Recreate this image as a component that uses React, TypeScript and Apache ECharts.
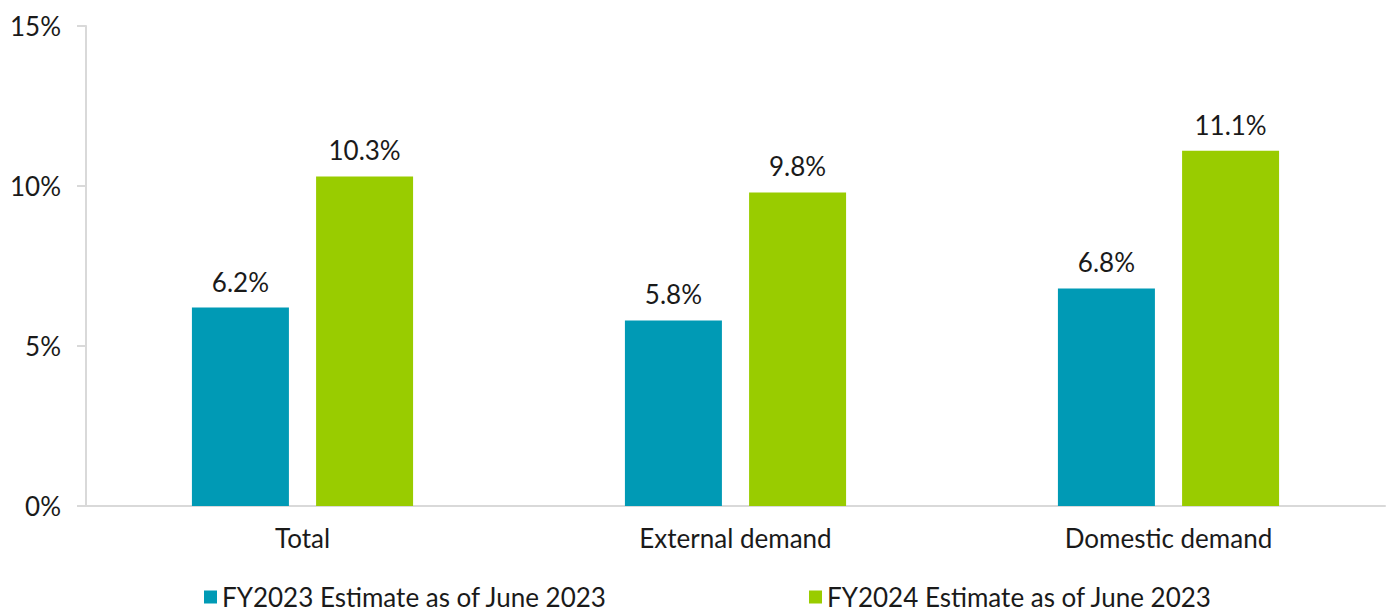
import React, { useEffect, useRef } from "react";
import * as echarts from "echarts";

const categories = ["Total", "External demand", "Domestic demand"];
const fy2023 = [6.2, 5.8, 6.8];
const fy2024 = [10.3, 9.8, 11.1];
const seriesNames = ["FY2023 Estimate as of June 2023", "FY2024 Estimate as of June 2023"];
const yTicks = { min: 0, max: 15, interval: 5 };

const FONT = "Lato, 'Noto Sans', sans-serif";
const FS = 26;

export default function App() {
  const ref = useRef<HTMLDivElement>(null);
  useEffect(() => {
    if (!ref.current) return;
    const chart = echarts.init(ref.current, null, { renderer: "svg" });
    const label = {
      show: true,
      position: "top",
      distance: 13,
      fontSize: FS,
      fontFamily: FONT,
      color: "#1a1a1a",
      formatter: (p: any) => `${p.value.toFixed(1)}%`,
    };
    const legendBase = {
      top: 579,
      itemWidth: 13,
      itemHeight: 13,
      icon: "rect",
      textStyle: { fontSize: FS, fontFamily: FONT, color: "#1a1a1a", lineHeight: 26 },
    };
    chart.setOption({
      animation: false,
      grid: { left: 86, right: 6, top: 26, bottom: 109, containLabel: false },
      legend: [
        { ...legendBase, left: 199, data: [seriesNames[0]] },
        { ...legendBase, left: 804, data: [seriesNames[1]] },
      ],
      xAxis: {
        type: "category",
        data: categories,
        axisLine: { show: true, lineStyle: { color: "#d9d9d9", width: 2 } },
        axisTick: { show: false },
        axisLabel: { fontSize: FS, fontFamily: FONT, color: "#1a1a1a", margin: 19 },
      },
      yAxis: {
        type: "value",
        min: yTicks.min,
        max: yTicks.max,
        interval: yTicks.interval,
        axisLine: { show: true, lineStyle: { color: "#d9d9d9", width: 2 } },
        axisTick: { show: true, length: 9, lineStyle: { color: "#d9d9d9", width: 2 } },
        splitLine: { show: false },
        axisLabel: {
          fontSize: FS,
          fontFamily: FONT,
          color: "#1a1a1a",
          margin: 25,
          formatter: (v: number) => `${v}%`,
        },
      },
      series: [
        {
          name: seriesNames[0],
          type: "bar",
          data: fy2023,
          barWidth: 97,
          barGap: "28%",
          itemStyle: { color: "#009AB5" },
          label,
        },
        {
          name: seriesNames[1],
          type: "bar",
          data: fy2024,
          barWidth: 97,
          barGap: "28%",
          itemStyle: { color: "#99CC00" },
          label,
        },
      ],
    });
    return () => chart.dispose();
  }, []);
  return (
    <div
      ref={ref}
      style={{ position: "fixed", left: 0, top: 0, width: 1391, height: 615, background: "#fff" }}
    />
  );
}
